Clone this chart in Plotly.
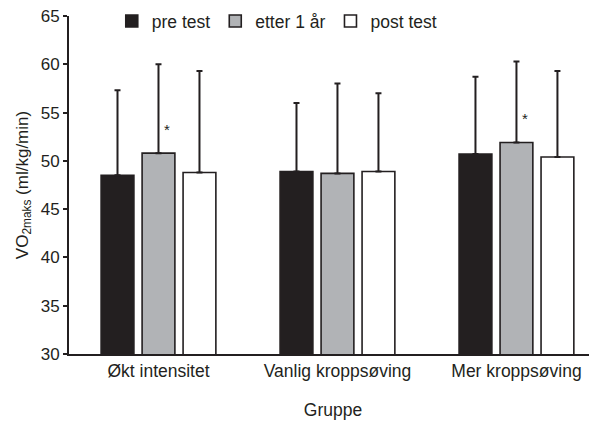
import plotly.graph_objects as go

groups = ["Økt intensitet", "Vanlig kroppsøving", "Mer kroppsøving"]
series_names = ["pre test", "etter 1 år", "post test"]
pre = [48.5, 48.9, 50.7]
etter = [50.8, 48.7, 51.9]
post = [48.8, 48.9, 50.4]
pre_sd = [8.8, 7.1, 8.0]
etter_sd = [9.2, 9.3, 8.4]
post_sd = [10.5, 8.1, 8.9]
sig_groups = ["Økt intensitet", "Mer kroppsøving"]
sig_values = [53.2, 54.4]

colors = ["#231f20", "#b1b3b6", "#ffffff"]
values = [pre, etter, post]
sds = [pre_sd, etter_sd, post_sd]

fig = go.Figure()
for name, vals, sd, col in zip(series_names, values, sds, colors):
    fig.add_trace(go.Bar(
        x=groups, y=vals, name=name,
        marker=dict(color=col, line=dict(color="#231f20", width=1.6)),
        error_y=dict(type="data", array=sd, arrayminus=[0] * len(sd),
                     symmetric=False, color="#231f20", thickness=2, width=3),
    ))

for g, v in zip(sig_groups, sig_values):
    fig.add_annotation(x=g, y=v, text="*", showarrow=False, xshift=9,
                       yanchor="middle", font=dict(size=15, color="#231f20"))

# the page body has an 8px default margin, so the figure is offset by 8px
fig.update_layout(
    width=597, height=422,
    margin=dict(l=61, r=8, t=8, b=76, autoexpand=False),
    paper_bgcolor="white", plot_bgcolor="white",
    font=dict(family="Liberation Sans, Arial, sans-serif", size=17, color="#231f20"),
    barmode="group", bargap=0.313, bargroupgap=0.2,
    showlegend=True,
    legend=dict(orientation="h", x=0.081, xanchor="left", y=0.985, yanchor="middle",
                font=dict(size=17.5), bgcolor="rgba(0,0,0,0)", itemclick=False),
    xaxis=dict(range=[-0.5, 2.45], showline=True, linecolor="#231f20", linewidth=2,
               ticks="", showgrid=False, automargin=False,
               title=dict(text="Gruppe", font=dict(size=17.5), standoff=24),
               tickfont=dict(size=17.5)),
    yaxis=dict(range=[30, 65], dtick=5, showline=True, linecolor="#231f20", linewidth=2,
               ticks="outside", ticklen=4, tickwidth=2, tickcolor="#231f20",
               showgrid=False, zeroline=False, automargin=False,
               ticklabeloverflow="allow",
               title=dict(text="VO<sub>2maks</sub> (ml/kg/min)", font=dict(size=17), standoff=8),
               tickfont=dict(size=17)),
)

fig.write_html("out.html")
